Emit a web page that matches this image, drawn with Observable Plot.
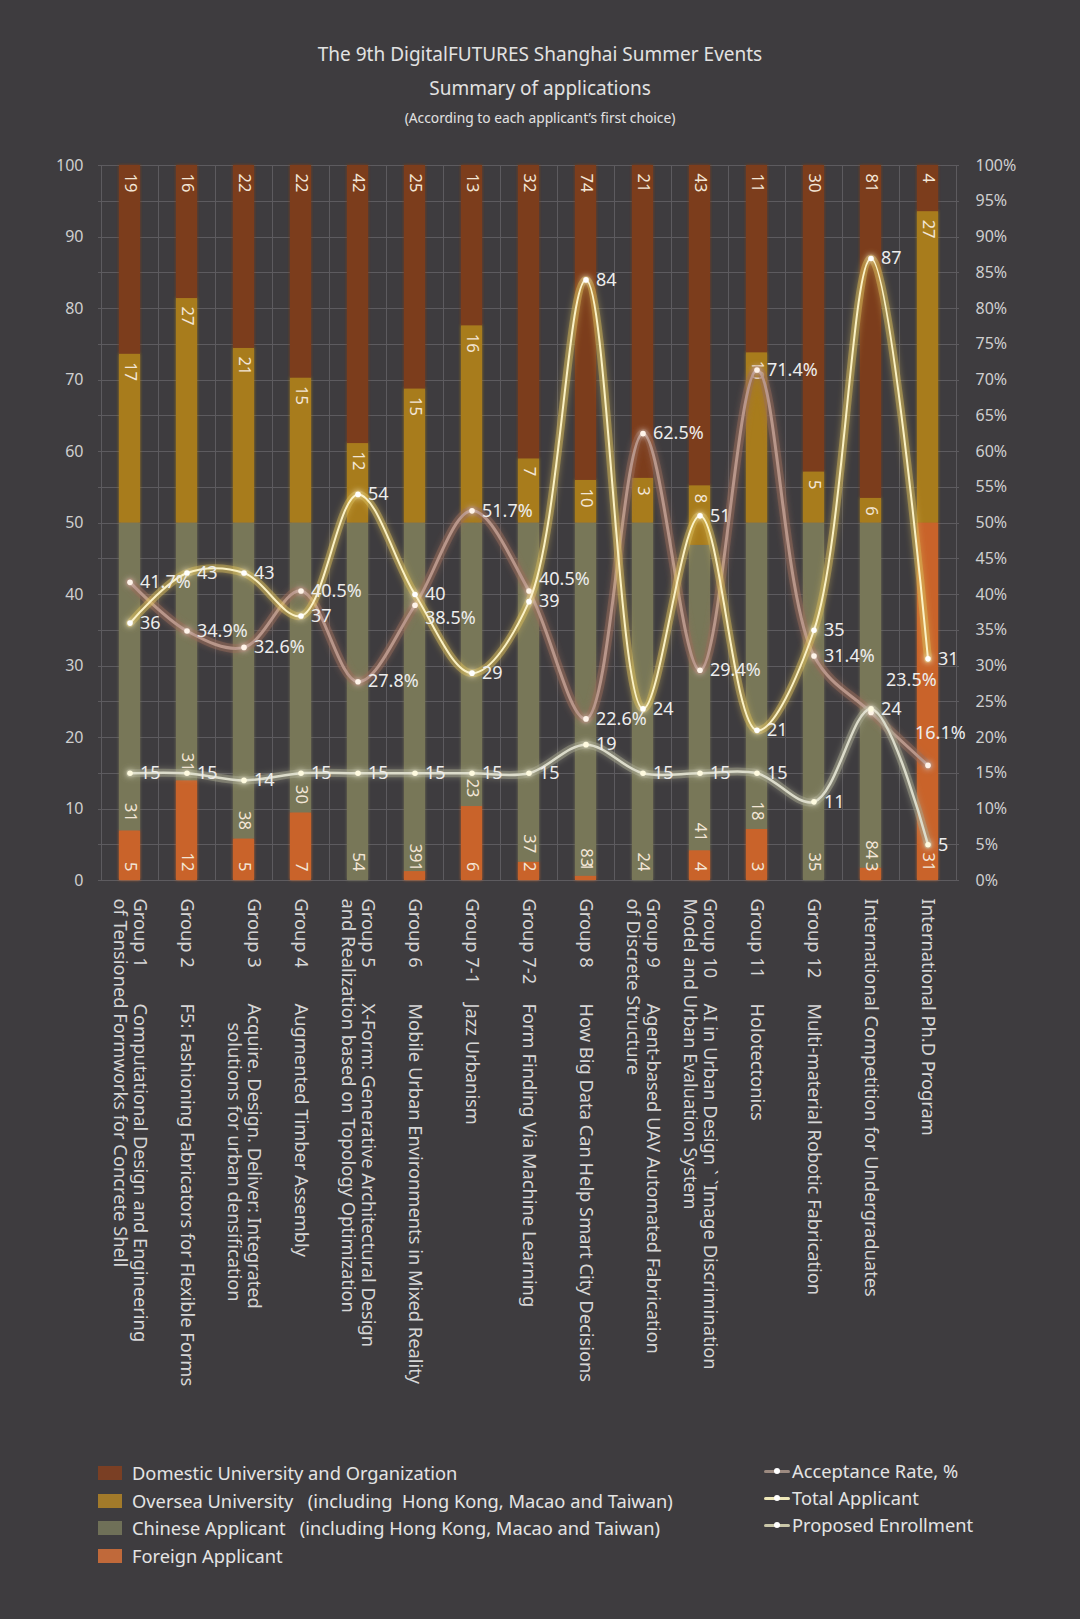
<!DOCTYPE html>
<html><head><meta charset="utf-8">
<script src="https://cdn.jsdelivr.net/npm/d3@7"></script>
<script src="https://cdn.jsdelivr.net/npm/@observablehq/plot@0.6"></script>
<style>
html,body{margin:0;padding:0;background:#3e3c3f;}
body{width:1080px;height:1619px;position:relative;overflow:hidden;font-family:"Noto Sans",sans-serif;color:#e2e2e2;}
.ttl{position:absolute;left:0;width:1080px;text-align:center;white-space:pre;}
#chart{position:absolute;left:0;top:140px;}
svg text{white-space:pre;}
.leg{position:absolute;font-size:18.3px;white-space:pre;color:#e4e4e4;}
.row{position:absolute;left:0;height:26px;line-height:26px;}
.sw{position:absolute;left:0;top:6px;width:24px;height:14px;filter:blur(0.6px);}
.ln{position:absolute;left:0;top:12px;width:26px;height:3px;border-radius:2px;}
.ld{position:absolute;left:10px;top:10px;width:6px;height:6px;border-radius:3px;background:#fff;}
</style></head>
<body>
<div class="ttl" style="top:41px;font-size:19px;line-height:26px;">The 9th DigitalFUTURES Shanghai Summer Events</div>
<div class="ttl" style="top:75px;font-size:19px;line-height:26px;">Summary of applications</div>
<div class="ttl" style="top:108px;font-size:13.8px;line-height:20px;">(According to each applicant’s first choice)</div>
<div id="chart"></div>
<div id="leg1" class="leg" style="left:98px;top:1460px;width:640px;height:120px;"></div>
<div id="leg2" class="leg" style="left:764px;top:1458px;width:310px;height:90px;"></div>
<script>
// ---- data ----
// category labels: "\t" separates the group code from its title, "\n" is a line break
const groupLabels = [
  "Group 1\tComputational Design and Engineering\nof Tensioned Formworks for Concrete Shell",
  "Group 2\tF5: Fashioning Fabricators for Flexible Forms",
  "Group 3\tAcquire. Design. Deliver: Integrated\n\t    solutions for urban densification",
  "Group 4\tAugmented Timber Assembly",
  "Group 5\tX-Form: Generative Architectural Design\nand Realization based on Topology Optimization",
  "Group 6\tMobile Urban Environments in Mixed Reality",
  "Group 7-1\tJazz Urbanism",
  "Group 7-2\tForm Finding Via Machine Learning",
  "Group 8\tHow Big Data Can Help Smart City Decisions",
  "Group 9\tAgent-based UAV Automated Fabrication\nof Discrete Structure",
  "Group 10\tAI in Urban Design ` `Image Discrimination\nModel and Urban Evaluation System",
  "Group 11\tHolotectonics",
  "Group 12\tMulti-material Robotic Fabrication",
  "International Competition for Undergraduates",
  "International Ph.D Program"
];
const domestic = [19,16,22,22,42,25,13,32,74,21,43,11,30,81,4];
const oversea  = [17,27,21,15,12,15,16,7,10,3,8,10,5,6,27];
const chinese  = [31,31,38,30,54,39,23,37,83,24,41,18,35,84,0];
const foreign  = [5,12,5,7,0,1,6,2,1,0,4,3,0,3,31];
const totalApplicant = [36,43,43,37,54,40,29,39,84,24,51,21,35,87,31];
const proposedEnrollment = [15,15,14,15,15,15,15,15,19,15,15,15,11,24,5];
const acceptanceRate = [41.7,34.9,32.6,40.5,27.8,38.5,51.7,40.5,22.6,62.5,29.4,71.4,31.4,23.5,16.1];
const leftTicks = [0,10,20,30,40,50,60,70,80,90,100];
const rightTicks = [0,5,10,15,20,25,30,35,40,45,50,55,60,65,70,75,80,85,90,95,100];

const seriesNames = ["Foreign Applicant","Chinese Applicant","Oversea University","Domestic University and Organization"];
const seriesColors = ["#c9642c","#787759","#a87b1e","#7c3e1c"];
const legendNames = ["Domestic University and Organization","Oversea University   (including  Hong Kong, Macao and Taiwan)","Chinese Applicant   (including Hong Kong, Macao and Taiwan)","Foreign Applicant"];
const legendColors = ["#7a3f24","#a27a2a","#6f7058","#c0693a"];
const lineNames = ["Acceptance Rate, %","Total Applicant","Proposed Enrollment"];
const lineColors = ["#9c8a80","#eee7b8","#c9c6a8"];

// ---- tables ----
const keys = groupLabels;
const rows = [];
keys.forEach((k,i)=>{
  const vals = [foreign[i], chinese[i], oversea[i], domestic[i]];
  const sum = d3.sum(vals);
  let acc = 0;
  vals.forEach((v,j)=>{
    const share = v/sum*100;
    rows.push({key:k, series:seriesNames[j], idx:j, value:v, y1:acc, y2:acc+share});
    acc += share;
  });
});
const lineRows = keys.map((k,i)=>{
  const r = {key:k, i, total:totalApplicant[i], proposed:proposedEnrollment[i], rate:acceptanceRate[i]};
  r.nearProposed = Math.abs(r.rate - r.proposed) < 3;
  r.nearTotal = Math.abs(r.rate - r.total) < 3;
  r.last = i === keys.length - 1;
  return r;
});
const rateNormal = lineRows.filter(d=>!d.nearProposed && !d.nearTotal && !d.last);
const rateUp = lineRows.filter(d=>!d.nearProposed && !d.last && d.nearTotal && d.rate > d.total);
const rateDown = lineRows.filter(d=>!d.nearProposed && !d.last && d.nearTotal && d.rate <= d.total);
const rateAbove = lineRows.filter(d=>d.nearProposed && !d.last);
const rateLast = lineRows.filter(d=>d.last);

// x-label segments (code column / title column, per line)
const segs = [];
keys.forEach(k=>{
  const lines = k.split("\n");
  lines.forEach((ln,j)=>{
    const parts = ln.split("\t");
    const pad = (t)=> "\n".repeat(j) + t + "\n".repeat(lines.length-1-j);
    if (parts.length === 2) {
      if (parts[0]) segs.push({key:k, col:0, text:pad(parts[0])});
      segs.push({key:k, col:1, text:pad(parts[1])});
    } else {
      segs.push({key:k, col:0, text:pad(parts[0])});
    }
  });
});

const grid = "#5d5b5f";
const lab = "#ededed";
const xl = {x:"key", frameAnchor:"bottom", text:"text", rotate:90, textAnchor:"start", lineAnchor:"middle", lineHeight:1.08, fill:"#d6d6d6", fontSize:18.3};
const svg = Plot.plot({
  width:1080, height:1280,
  marginLeft:98, marginRight:121, marginTop:25, marginBottom:540,
  style:{background:"none", color:"#cfcfcf", fontFamily:"'Noto Sans', sans-serif", fontSize:"16px"},
  x:{type:"band", domain:keys, padding:0, axis:null},
  y:{domain:[0,100], axis:null},
  color:{domain:seriesNames, range:seriesColors},
  marks:[
    Plot.ruleY(rightTicks, {stroke:grid, strokeWidth:1, shapeRendering:"crispEdges"}),
    Plot.barY(keys, {x:d=>d, y1:0, y2:100, fill:"none", stroke:grid, strokeWidth:1, shapeRendering:"crispEdges"}),
    Plot.axisY(leftTicks, {anchor:"left", tickSize:0, tickPadding:15, label:null, fontSize:16}),
    Plot.axisY(rightTicks, {anchor:"right", tickSize:0, tickPadding:16, label:null, fontSize:16, tickFormat:d=>d+"%"}),
    Plot.barY(rows, {x:"key", y1:"y1", y2:"y2", fill:"series", insetLeft:18, insetRight:18, ariaDescription:"softbar"}),
    // bar value labels
    Plot.text(rows.filter(d=>d.idx>=2 && d.value>0), {x:"key", y:"y2", text:d=>String(d.value), rotate:90, textAnchor:"start", dy:8, fill:"#f3e6d6", fontSize:16.5}),
    Plot.text(rows.filter(d=>d.idx<2 && d.value>0), {x:"key", y:"y1", text:d=>String(d.value), rotate:90, textAnchor:"end", dy:-9, fill:"#f3e6d6", fontSize:16.5}),
    // acceptance rate
    Plot.line(lineRows, {x:"key", y:"rate", curve:"catmull-rom", stroke:"#9a6c5c", strokeWidth:9, strokeOpacity:0.45, ariaDescription:"glow"}),
    Plot.line(lineRows, {x:"key", y:"rate", curve:"catmull-rom", stroke:"#b8968a", strokeWidth:3}),
    // proposed enrollment
    Plot.line(lineRows, {x:"key", y:"proposed", curve:"catmull-rom", stroke:"#a9a890", strokeWidth:8, strokeOpacity:0.45, ariaDescription:"glow"}),
    Plot.line(lineRows, {x:"key", y:"proposed", curve:"catmull-rom", stroke:"#dcdccb", strokeWidth:2.5}),
    // total applicant
    Plot.line(lineRows, {x:"key", y:"total", curve:"catmull-rom", stroke:"#d9bd5a", strokeWidth:8, strokeOpacity:0.45, ariaDescription:"glow"}),
    Plot.line(lineRows, {x:"key", y:"total", curve:"catmull-rom", stroke:"#fbf2c6", strokeWidth:2}),
    Plot.dot(lineRows, {x:"key", y:"rate", r:2.8, fill:"#fff4ea", ariaDescription:"glow"}),
    Plot.dot(lineRows, {x:"key", y:"proposed", r:2.8, fill:"#fffbe0", ariaDescription:"glow"}),
    Plot.dot(lineRows, {x:"key", y:"total", r:2.8, fill:"#ffffff", ariaDescription:"glow"}),
    Plot.text(rateNormal, {x:"key", y:"rate", text:d=>d.rate.toFixed(1)+"%", dx:10, textAnchor:"start", fill:lab, fontSize:18}),
    Plot.text(rateUp, {x:"key", y:"rate", text:d=>d.rate.toFixed(1)+"%", dx:10, dy:-12, textAnchor:"start", fill:lab, fontSize:18}),
    Plot.text(rateDown, {x:"key", y:"rate", text:d=>d.rate.toFixed(1)+"%", dx:10, dy:13, textAnchor:"start", fill:lab, fontSize:18}),
    Plot.text(rateAbove, {x:"key", y:"rate", text:d=>d.rate.toFixed(1)+"%", dx:15, dy:-32, textAnchor:"start", fill:lab, fontSize:18}),
    Plot.text(rateLast, {x:"key", y:"rate", text:d=>d.rate.toFixed(1)+"%", dx:-13, dy:-32, textAnchor:"start", fill:lab, fontSize:18}),
    Plot.text(lineRows, {x:"key", y:"proposed", text:d=>String(d.proposed), dx:10, textAnchor:"start", fill:lab, fontSize:18}),
    Plot.text(lineRows, {x:"key", y:"total", text:d=>String(d.total), dx:10, textAnchor:"start", fill:lab, fontSize:18}),
    // x labels
    Plot.text(segs.filter(d=>d.col===0), {...xl, dy:18}),
    Plot.text(segs.filter(d=>d.col===1), {...xl, dy:123})
  ]
});
const s = d3.select(svg);
const defs = s.insert("defs", ":first-child");
function mkFilter(id, sd){
  const f = defs.append("filter").attr("id", id).attr("filterUnits","userSpaceOnUse").attr("x",0).attr("y",0).attr("width",1080).attr("height",1280);
  f.append("feGaussianBlur").attr("in","SourceGraphic").attr("stdDeviation",sd).attr("result","b");
  const m = f.append("feMerge");
  m.append("feMergeNode").attr("in","b");
  m.append("feMergeNode").attr("in","SourceGraphic");
}
mkFilter("glow", 3);
mkFilter("soft", 1.6);
s.selectAll('[aria-description="glow"]').attr("filter","url(#glow)");
s.selectAll('[aria-description="softbar"]').attr("filter","url(#soft)");
document.getElementById("chart").appendChild(svg);

// legends
const l1 = d3.select("#leg1");
legendNames.forEach((n,i)=>{
  const r = l1.append("div").attr("class","row").style("top",(i*27.5)+"px").style("width","640px");
  r.append("div").attr("class","sw").style("background",legendColors[i]);
  r.append("span").style("position","absolute").style("left","34px").text(n);
});
const l2 = d3.select("#leg2");
lineNames.forEach((n,i)=>{
  const r = l2.append("div").attr("class","row").style("top",(i*27)+"px").style("width","310px");
  r.append("div").attr("class","ln").style("background",lineColors[i]);
  r.append("div").attr("class","ld");
  r.append("span").style("position","absolute").style("left","28px").text(n);
});
</script>
</body></html>
